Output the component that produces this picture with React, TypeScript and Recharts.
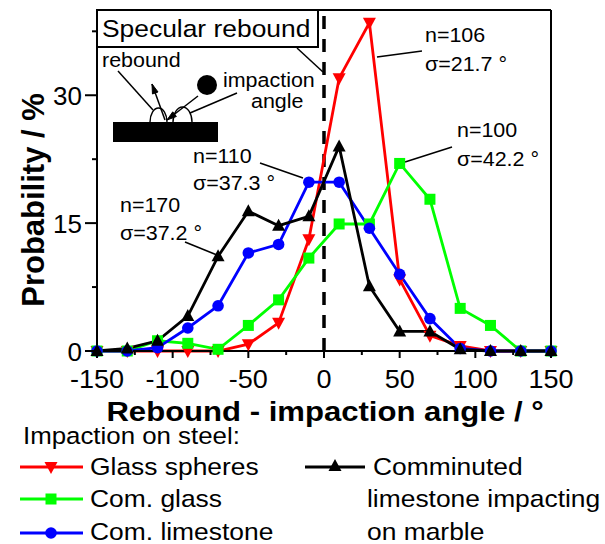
import React from 'react';
import { LineChart, Line, XAxis, YAxis, ReferenceLine, Customized } from 'recharts';

// Rebound minus impaction angle (degrees), bin centres
const angles = [-150, -130, -110, -90, -70, -50, -30, -10, 10, 30, 50, 70, 90, 110, 130, 150];

// Probability (%) per bin
const glassSpheres = [0, 0, 0, 0, 0, 0.8, 3.3, 13.1, 32, 38.5, 8.4, 1.8, 0.6, 0, 0, 0];
const comGlass = [0, 0, 1.2, 0.9, 0.2, 3.0, 6.0, 10.9, 14.9, 14.9, 22, 17.8, 5.0, 3.0, 0, 0];
const comLimestone = [0, 0, 0.4, 2.7, 5.3, 11.5, 12.5, 19.8, 19.8, 14.4, 9.0, 3.8, 0.3, 0, 0, 0];
const limestoneOnMarble = [0, 0.3, 1.2, 4.1, 11.1, 16.4, 14.7, 15.8, 24, 7.6, 2.3, 2.3, 0.2, 0, 0, 0];

const xTicks = [-150, -125, -100, -75, -50, -25, 0, 25, 50, 75, 100, 125, 150];
const xLabelled = [-150, -100, -50, 0, 50, 100, 150];
const yTicks = [0, 7.5, 15, 22.5, 30, 37.5];
const yLabelled = [0, 15, 30];

const data = angles.map((a, i) => ({
  angle: a,
  glass: glassSpheres[i],
  comGlass: comGlass[i],
  comLime: comLimestone[i],
  marble: limestoneOnMarble[i],
}));

const RED = '#ff0000';
const GREEN = '#00ff00';
const BLUE = '#0000ff';
const BLACK = '#000000';
const FONT = "'Liberation Sans', Arial, Helvetica, sans-serif";

function SText({ x, y, size, children, anchor = 'start', bold = false, sx = 1.1 }: any) {
  return (
    <text
      transform={`translate(${x},${y}) scale(${sx},1)`}
      fontSize={size}
      fontFamily={FONT}
      fontWeight={bold ? 'bold' : 'normal'}
      textAnchor={anchor}
      fill="#000"
    >
      {children}
    </text>
  );
}

// Marker shapes
function TriDown({ cx, cy, color }: any) {
  return <polygon points={`${cx - 6.5},${cy - 5} ${cx + 6.5},${cy - 5} ${cx},${cy + 7}`} fill={color} />;
}
function TriUp({ cx, cy, color }: any) {
  return <polygon points={`${cx - 6.5},${cy + 5} ${cx + 6.5},${cy + 5} ${cx},${cy - 7}`} fill={color} />;
}
function Square({ cx, cy, color }: any) {
  return <rect x={cx - 5.5} y={cy - 5.5} width={11} height={11} fill={color} />;
}
function Circle({ cx, cy, color }: any) {
  return <circle cx={cx} cy={cy} r={5.8} fill={color} />;
}

const mkDot = (Shape: any, color: string) => (p: any) => {
  if (p.cx == null || p.cy == null) return <g key={p.key} />;
  return <Shape key={p.key} cx={p.cx} cy={p.cy} color={color} />;
};

function XTick(p: any) {
  const { x, y, payload } = p;
  const v = payload.value;
  const major = xLabelled.includes(v);
  return (
    <g>
      <line x1={x} x2={x} y1={y} y2={y + (major ? 7 : 4)} stroke="#000" strokeWidth={2} />
      {major && (
        <SText x={x} y={y + 37} size={26} anchor="middle" sx={1.04}>
          {String(v)}
        </SText>
      )}
    </g>
  );
}

function YTick(p: any) {
  const { x, y, payload } = p;
  const v = payload.value;
  const major = yLabelled.includes(v);
  return (
    <g>
      <line x1={x - (major ? 12 : 5)} x2={x} y1={y} y2={y} stroke="#000" strokeWidth={2} />
      {major && (
        <SText x={x - 15} y={y + 9.5} size={26} anchor="end" sx={1}>
          {String(v)}
        </SText>
      )}
    </g>
  );
}

function Arrow({ x1, y1, x2, y2 }: any) {
  const ang = Math.atan2(y2 - y1, x2 - x1);
  const L = 10;
  const w = 0.3;
  const ax = x2 - L * Math.cos(ang - w);
  const ay = y2 - L * Math.sin(ang - w);
  const bx = x2 - L * Math.cos(ang + w);
  const by = y2 - L * Math.sin(ang + w);
  return (
    <g>
      <line x1={x1} y1={y1} x2={x2} y2={y2} stroke="#000" strokeWidth={1.5} />
      <polygon points={`${ax},${ay} ${x2},${y2} ${bx},${by}`} fill="#000" stroke="#000" strokeWidth={1} />
    </g>
  );
}

function Overlay() {
  const lead = { stroke: '#000', strokeWidth: 1.5 };
  return (
    <g>
      {/* title box */}
      <rect x={97} y={10} width={221} height={37} fill="#fff" stroke="#000" strokeWidth={2} />
      <SText x={102} y={37} size={24} sx={1.1}>Specular rebound</SText>
      <line x1={297} y1={48} x2={323} y2={72} {...lead} />

      {/* impact schematic */}
      <rect x={113} y={122} width={105} height={20} fill="#000" />
      <circle cx={207} cy={85} r={10} fill="#000" />
      <path d="M150,122 A8.5,14 0 0 1 167,122" fill="#fff" stroke="#000" strokeWidth={1.4} />
      <path d="M173,122 A9.5,15 0 0 1 192,122" fill="#fff" stroke="#000" strokeWidth={1.4} />
      <Arrow x1={198} y1={96} x2={167} y2={120} />
      <Arrow x1={165} y1={120} x2={152} y2={84} />
      <line x1={118} y1={71} x2={153} y2={110} {...lead} />
      <line x1={237} y1={93} x2={190} y2={113} {...lead} />
      <SText x={102} y={67} size={19.5}>rebound</SText>
      <SText x={223} y={87} size={19.5}>impaction</SText>
      <SText x={251} y={108} size={19.5}>angle</SText>

      {/* sample annotations */}
      <SText x={425} y={42} size={19.5}>n=106</SText>
      <SText x={425} y={71} size={19.5}>σ=21.7 °</SText>
      <line x1={377} y1={57} x2={422} y2={51} {...lead} />

      <SText x={457} y={137} size={19.5}>n=100</SText>
      <SText x={457} y={166} size={19.5}>σ=42.2 °</SText>
      <line x1={405} y1={162} x2={452} y2={147} {...lead} />

      <SText x={193} y={163} size={19.5}>n=110</SText>
      <SText x={193} y={190} size={19.5}>σ=37.3 °</SText>
      <line x1={260} y1={163} x2={303} y2={178} {...lead} />

      <SText x={120} y={212} size={19.5}>n=170</SText>
      <SText x={120} y={240} size={19.5}>σ=37.2 °</SText>
      <line x1={185} y1={242} x2={217} y2={255} {...lead} />

      {/* axis titles */}
      <SText x={325} y={421} size={28} bold anchor="middle" sx={1.11}>
        Rebound - impaction angle / °
      </SText>
      <text
        transform="translate(44,200) rotate(-90)"
        fontSize={31}
        fontFamily={FONT}
        fontWeight="bold"
        textAnchor="middle"
        fill="#000"
      >
        Probability / %
      </text>

      {/* legend */}
      <SText x={23} y={444} size={23.5}>Impaction on steel:</SText>
      <line x1={20} x2={83} y1={467} y2={467} stroke={RED} strokeWidth={3} />
      <TriDown cx={51} cy={467} color={RED} />
      <SText x={90} y={475} size={24}>Glass spheres</SText>
      <line x1={20} x2={83} y1={499} y2={499} stroke={GREEN} strokeWidth={3} />
      <Square cx={51} cy={499} color={GREEN} />
      <SText x={90} y={507} size={24}>Com. glass</SText>
      <line x1={20} x2={83} y1={533} y2={533} stroke={BLUE} strokeWidth={3} />
      <Circle cx={51} cy={533} color={BLUE} />
      <SText x={90} y={540} size={24}>Com. limestone</SText>

      <line x1={305} x2={365} y1={467} y2={467} stroke={BLACK} strokeWidth={3} />
      <TriUp cx={335} cy={466} color={BLACK} />
      <SText x={373} y={475} size={24}>Comminuted</SText>
      <SText x={367} y={507} size={24}>limestone impacting</SText>
      <SText x={367} y={540} size={24}>on marble</SText>
    </g>
  );
}

export default function App() {
  return (
    <div style={{ position: 'absolute', left: 0, top: 0, background: '#fff' }}>
      <LineChart
        width={605}
        height={544}
        data={data}
        margin={{ top: 10, right: 54, left: 0, bottom: 153 }}
      >
        <XAxis
          dataKey="angle"
          type="number"
          domain={[-150, 150]}
          ticks={xTicks}
          interval={0}
          height={40}
          tickSize={0}
          tickMargin={0}
          tickLine={false}
          axisLine={{ stroke: '#000', strokeWidth: 2 }}
          tick={<XTick />}
        />
        <YAxis
          type="number"
          domain={[0, 40]}
          ticks={yTicks}
          interval={0}
          width={97}
          tickSize={0}
          tickMargin={0}
          tickLine={false}
          axisLine={{ stroke: '#000', strokeWidth: 2 }}
          tick={<YTick />}
        />
        <ReferenceLine y={40} stroke="#000" strokeWidth={2} />
        <ReferenceLine x={150} stroke="#000" strokeWidth={2} />
        <ReferenceLine x={0} stroke="#000" strokeWidth={3.5} strokeDasharray="13 10" />
        <Line
          dataKey="glass"
          stroke={RED}
          strokeWidth={2.8}
          dot={mkDot(TriDown, RED)}
          activeDot={false}
          isAnimationActive={false}
        />
        <Line
          dataKey="comGlass"
          stroke={GREEN}
          strokeWidth={2.8}
          dot={mkDot(Square, GREEN)}
          activeDot={false}
          isAnimationActive={false}
        />
        <Line
          dataKey="comLime"
          stroke={BLUE}
          strokeWidth={2.8}
          dot={mkDot(Circle, BLUE)}
          activeDot={false}
          isAnimationActive={false}
        />
        <Line
          dataKey="marble"
          stroke={BLACK}
          strokeWidth={2.8}
          dot={mkDot(TriUp, BLACK)}
          activeDot={false}
          isAnimationActive={false}
        />
        <Customized component={<Overlay />} />
      </LineChart>
    </div>
  );
}
